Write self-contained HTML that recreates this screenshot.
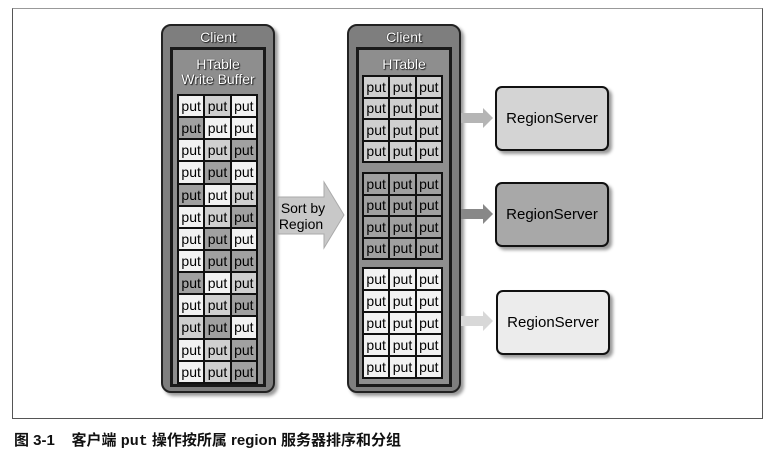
<!DOCTYPE html>
<html><head><meta charset="utf-8"><style>
body{margin:0;width:778px;height:458px;background:#fff;position:relative;overflow:hidden;font-family:"Liberation Sans","Noto Sans CJK SC",sans-serif}
.a{position:absolute}
.frame{left:12px;top:8px;width:749px;height:409px;border:1px solid #555;border-top-color:#999}
.client{background:#7e7e7e;border:2px solid #222;border-radius:10px;box-shadow:3px 3px 3px #999}
.inner{border:3px solid #1a1a1a;background:#8e8e8e}
.lbl{color:#fff;font-family:"Liberation Sans Narrow","Liberation Sans",sans-serif;font-size:14px;text-align:center;text-shadow:0 0 1px #000,1px 1px 1px #222;line-height:15px}
table{border-collapse:separate;border-spacing:2px;background:#111;position:absolute}
td{padding:0;font-size:14px;font-family:"Liberation Sans Narrow","Liberation Sans",sans-serif;text-align:center;color:#000;line-height:1}
td.W{background:#f2f2f2}
td.L{background:#cfcfcf}
td.D{background:#a0a0a0}
.rs{border:2px solid #111;border-radius:7px;box-shadow:3px 3px 3px #999;font-size:15px;font-family:"Liberation Sans Narrow","Liberation Sans",sans-serif;display:flex;align-items:center;justify-content:center;width:110px;height:61px}
</style></head><body>
<div class="a frame"></div>

<div class="a client" style="left:161px;top:24px;width:110px;height:365px"></div>
<div class="a lbl" style="left:161px;top:30px;width:114px">Client</div>
<div class="a inner" style="left:170px;top:47px;width:90px;height:334px"></div>
<div class="a lbl" style="left:170px;top:57px;width:96px">HTable<br>Write Buffer</div>
<table style="left:177px;top:94px;width:81px;height:290px">
<tr><td class="W">put</td><td class="L">put</td><td class="W">put</td></tr>
<tr><td class="D">put</td><td class="W">put</td><td class="W">put</td></tr>
<tr><td class="W">put</td><td class="L">put</td><td class="D">put</td></tr>
<tr><td class="W">put</td><td class="D">put</td><td class="W">put</td></tr>
<tr><td class="D">put</td><td class="W">put</td><td class="L">put</td></tr>
<tr><td class="W">put</td><td class="L">put</td><td class="D">put</td></tr>
<tr><td class="W">put</td><td class="D">put</td><td class="W">put</td></tr>
<tr><td class="W">put</td><td class="D">put</td><td class="D">put</td></tr>
<tr><td class="D">put</td><td class="W">put</td><td class="L">put</td></tr>
<tr><td class="W">put</td><td class="L">put</td><td class="D">put</td></tr>
<tr><td class="L">put</td><td class="D">put</td><td class="W">put</td></tr>
<tr><td class="W">put</td><td class="L">put</td><td class="D">put</td></tr>
<tr><td class="W">put</td><td class="L">put</td><td class="D">put</td></tr>
</table>

<svg class="a" style="left:276px;top:180px" width="70" height="72"><polygon points="2,17 48,17 48,2 68,35 48,68 48,54 2,54" fill="#c8c8c8" stroke="#aaa"/><text x="27" y="33" font-size="14" text-anchor="middle" font-family="Liberation Sans Narrow, Liberation Sans, sans-serif">Sort by</text><text x="25" y="49" font-size="14" text-anchor="middle" font-family="Liberation Sans Narrow, Liberation Sans, sans-serif">Region</text></svg>

<div class="a client" style="left:347px;top:24px;width:110px;height:365px"></div>
<div class="a lbl" style="left:347px;top:30px;width:114px">Client</div>
<div class="a inner" style="left:356px;top:47px;width:90px;height:334px"></div>
<div class="a lbl" style="left:356px;top:57px;width:96px">HTable</div>
<table style="left:362px;top:75px;width:81px;height:88px">
<tr><td class="L">put</td><td class="L">put</td><td class="L">put</td></tr>
<tr><td class="L">put</td><td class="L">put</td><td class="L">put</td></tr>
<tr><td class="L">put</td><td class="L">put</td><td class="L">put</td></tr>
<tr><td class="L">put</td><td class="L">put</td><td class="L">put</td></tr>
</table>
<table style="left:362px;top:172px;width:81px;height:88px">
<tr><td class="D">put</td><td class="D">put</td><td class="D">put</td></tr>
<tr><td class="D">put</td><td class="D">put</td><td class="D">put</td></tr>
<tr><td class="D">put</td><td class="D">put</td><td class="D">put</td></tr>
<tr><td class="D">put</td><td class="D">put</td><td class="D">put</td></tr>
</table>
<table style="left:362px;top:267px;width:81px;height:112px">
<tr><td class="W">put</td><td class="W">put</td><td class="W">put</td></tr>
<tr><td class="W">put</td><td class="W">put</td><td class="W">put</td></tr>
<tr><td class="W">put</td><td class="W">put</td><td class="W">put</td></tr>
<tr><td class="W">put</td><td class="W">put</td><td class="W">put</td></tr>
<tr><td class="W">put</td><td class="W">put</td><td class="W">put</td></tr>
</table>

<svg class="a" style="left:461px;top:108px" width="34" height="20"><polygon points="0,5 22,5 22,0 32,10 22,20 22,15 0,15" fill="#b5b5b5"/></svg>
<svg class="a" style="left:461px;top:204px" width="34" height="20"><polygon points="0,5 22,5 22,0 32,10 22,20 22,15 0,15" fill="#888"/></svg>
<svg class="a" style="left:461px;top:311px" width="34" height="20"><polygon points="0,5 22,5 22,0 32,10 22,20 22,15 0,15" fill="#d8d8d8"/></svg>

<div class="a rs" style="left:495px;top:86px;background:#d4d4d4">RegionServer</div>
<div class="a rs" style="left:495px;top:182px;background:#a8a8a8">RegionServer</div>
<div class="a rs" style="left:496px;top:290px;background:#ececec">RegionServer</div>

<div class="a" style="left:14px;top:429px;font-size:15px;font-weight:bold;color:#111;white-space:nowrap">图 3-1&nbsp;&nbsp;&nbsp; 客户端 <span style="font-family:'Liberation Mono',monospace">put</span> 操作按所属 region 服务器排序和分组</div>
</body></html>
